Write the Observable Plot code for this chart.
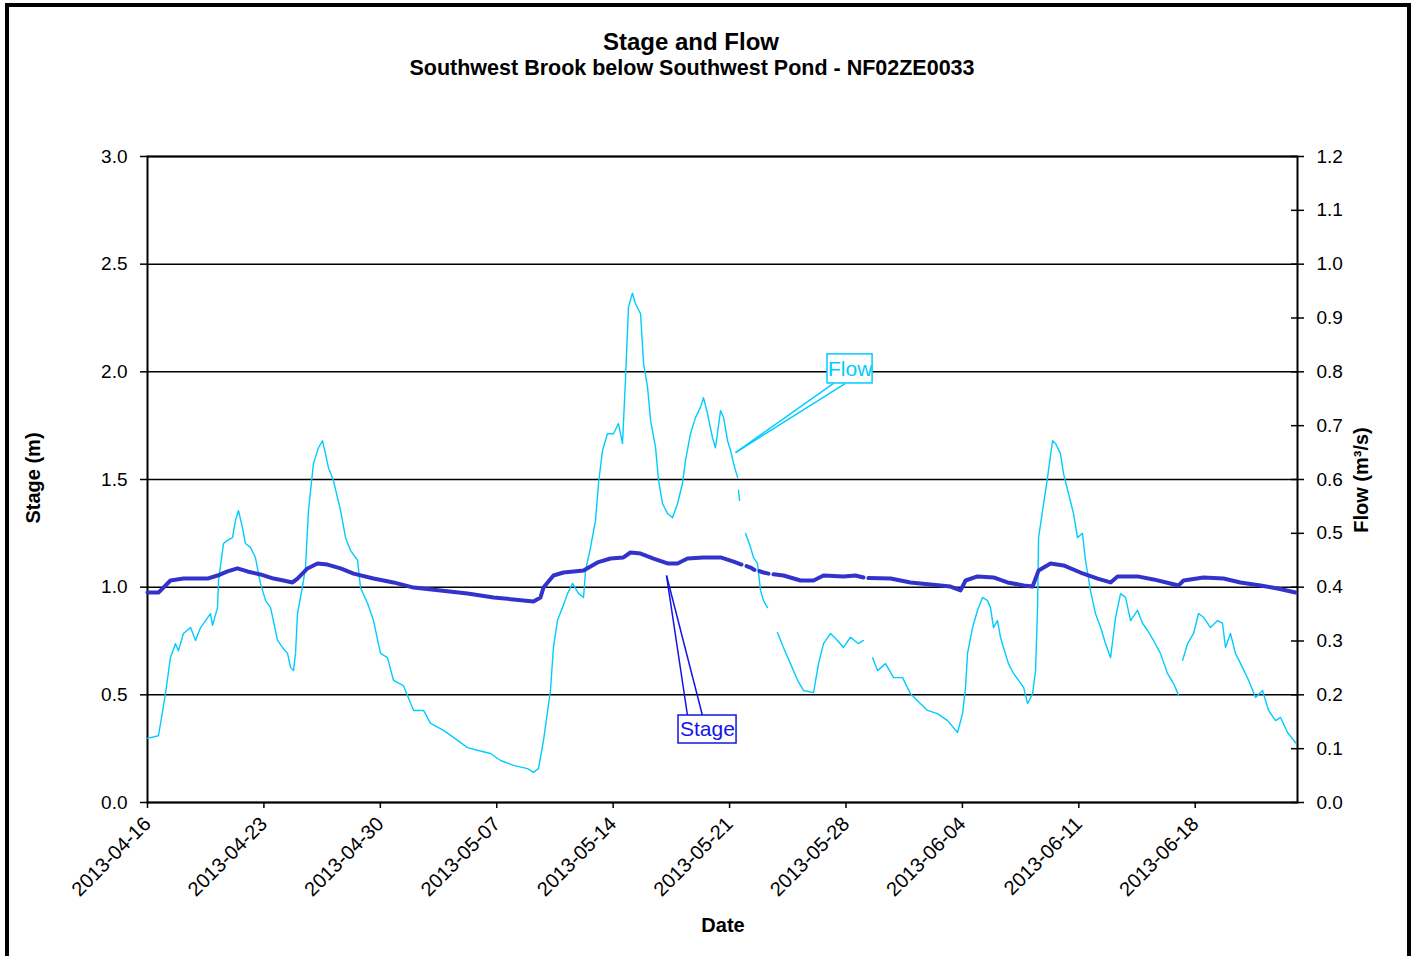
<!DOCTYPE html>
<html><head><meta charset="utf-8">
<script src="https://cdn.jsdelivr.net/npm/d3@7"></script>
<script src="https://cdn.jsdelivr.net/npm/@observablehq/plot@0.6"></script>
<style>
body{margin:0;background:#fff;font-family:"Liberation Sans",Arial,sans-serif;}
#wrap{position:relative;width:1413px;height:956px;overflow:hidden;background:#fff;}
#chart{position:absolute;left:0;top:0;}
#overlay{position:absolute;left:0;top:0;pointer-events:none;}
.frame{position:absolute;left:5px;top:3px;width:1406px;height:1000px;border:4px solid #000;box-sizing:border-box;pointer-events:none;}
</style></head><body>
<div id="wrap">
<div id="chart"></div>
<svg id="overlay" width="1413" height="956" font-family="Liberation Sans, Arial, sans-serif" font-weight="bold" fill="#000">
  <text x="691" y="50" font-size="24" text-anchor="middle">Stage and Flow</text>
  <text x="692" y="75" font-size="21.5" text-anchor="middle">Southwest Brook below Southwest Pond - NF02ZE0033</text>
  <text transform="translate(40,478) rotate(-90)" font-size="20" text-anchor="middle">Stage (m)</text>
  <text transform="translate(1368,480) rotate(-90)" font-size="20" text-anchor="middle">Flow (m³/s)</text>
  <text x="723" y="932" font-size="20" text-anchor="middle">Date</text>
</svg>
<div class="frame"></div>
</div>
<script>
// ---- data ----
const startDate = "2013-04-16";
const endDay = 69.15; // days after start shown on the x axis
const tickDates = ["2013-04-16","2013-04-23","2013-04-30","2013-05-07","2013-05-14","2013-05-21","2013-05-28","2013-06-04","2013-06-11","2013-06-18"];
const stageTicks = [0,0.5,1.0,1.5,2.0,2.5,3.0];
const flowTicks = [0,0.1,0.2,0.3,0.4,0.5,0.6,0.7,0.8,0.9,1.0,1.1,1.2];
const flowMax = 1.2, stageMax = 3.0;

// flow (m3/s), days after 2013-04-16
const flowDays = [
0,0.66,1.08,1.38,1.68,1.86,2.16,2.59,2.89,3.19,
3.79,3.91,4.21,4.27,4.57,4.81,5.11,5.29,5.47,5.71,
5.89,6.19,6.49,6.79,7.10,7.40,7.82,8.12,8.42,8.60,
8.78,8.90,9.02,9.38,9.50,9.68,9.98,10.28,10.52,10.70,
10.88,11.18,11.61,11.91,12.21,12.63,12.81,13.23,13.59,14.01,
14.43,14.79,15.39,16.00,16.60,17.02,17.80,18.40,19.24,19.84,
20.63,21.23,22.01,22.85,23.21,23.51,23.81,24.23,24.41,24.65,
24.95,25.26,25.56,25.92,26.22,26.34,26.64,26.94,27.12,27.36,
27.66,28.02,28.32,28.56,28.74,28.92,29.16,29.34,29.65,29.83,
30.07,30.25,30.55,30.73,30.97,31.27,31.57,31.87,32.17,32.35,
32.65,32.95,33.25,33.43,33.67,33.97,34.15,34.46,34.64,34.88,
35.06,35.24,35.48,35.51,35.54,35.60,35.78,
35.96,36.26,36.44,36.68,36.86,37.04,37.28,37.58,
37.88,38.24,38.66,39.09,39.45,40.05,40.35,40.65,41.07,41.49,41.85,42.27,42.75,43.05,43.30,
43.60,43.90,44.38,44.86,45.40,45.88,46.30,46.90,47.50,48.11,
48.71,49.01,49.19,49.31,49.61,49.91,50.21,50.51,50.69,50.87,
51.11,51.29,51.47,51.77,52.07,52.38,52.68,52.92,53.22,53.40,
53.52,53.58,53.82,54.12,54.42,54.60,54.90,55.08,55.38,55.68,
55.92,56.22,56.40,56.70,57.00,57.31,57.61,57.91,58.21,58.51,
58.81,59.11,59.53,59.83,60.13,60.49,60.91,61.33,61.70,62.00,62.12,
62.24,62.54,62.90,63.20,63.50,63.92,64.34,64.64,64.82,65.12,
65.42,65.84,66.21,66.63,67.05,67.41,67.83,68.13,68.55,69.03
];
const flowValues = [
.119,.124,.202,.269,.295,.282,.314,.325,.301,.325,
.351,.329,.362,.412,.481,.487,.492,.524,.542,.511,
.481,.474,.455,.407,.375,.362,.301,.288,.277,.251,
.245,.277,.351,.412,.437,.542,.630,.659,.672,.648,
.622,.598,.542,.492,.468,.450,.399,.370,.338,.277,
.269,.227,.217,.171,.171,.147,.134,.121,.102,.097,
.091,.078,.069,.063,.056,.063,.115,.208,.288,.338,
.362,.388,.407,.388,.381,.431,.474,.524,.593,.654,
.685,.685,.704,.667,.784,.920,.946,.927,.908,.815,
.771,.710,.659,.598,.555,.537,.529,.555,.593,.635,
.685,.715,.734,.752,.723,.678,.659,.728,.715,.672,
.654,.630,.604,null,.580,.561,null,
.500,.474,.455,.444,.394,.375,.362,null,
.316,.288,.258,.227,.208,.204,.258,.295,.314,.301,.288,.307,.295,.301,null,
.269,.245,.258,.232,.232,.202,.189,.171,.165,.152,
.130,.165,.214,.277,.325,.357,.381,.375,.362,.325,
.338,.307,.288,.258,.240,.227,.214,.184,.202,.245,
.362,.492,.542,.604,.672,.667,.648,.611,.574,.537,
.492,.500,.450,.394,.351,.325,.295,.269,.344,.388,
.381,.338,.357,.333,.320,.301,.277,.240,.221,.199,null,
.264,.295,.314,.351,.344,.325,.338,.333,.288,.314,
.277,.251,.227,.195,.208,.171,.152,.158,.130,.111
];

// stage (m), days after 2013-04-16
const stageDays = [
0,0.66,1.38,2.16,3.61,4.21,4.81,5.41,6.01,6.79,
7.58,8.18,8.72,9.02,9.62,10.22,10.82,11.61,12.39,13.59,
14.79,16.00,17.62,19.24,20.81,22.01,23.21,23.63,23.81,24.41,
25.02,26.22,27.06,27.84,28.62,29.04,29.65,30.43,31.27,31.87,
32.47,33.43,34.46,35.24,35.72,35.87,36.02,36.26,36.50,36.65,
36.80,37.04,37.34,37.49,37.64,38.24,39.27,40.05,40.65,41.85,
42.57,43.05,43.20,43.35,44.68,45.88,47.08,48.29,48.89,49.19,
49.91,50.87,51.71,52.68,53.22,53.58,54.30,55.08,56.10,57.13,
57.91,58.33,59.53,60.49,61.51,62.00,62.30,63.50,64.70,65.72,
66.93,67.95,69.03
];
const stageValues = [
.975,.975,1.031,1.040,1.040,1.054,1.073,1.087,1.073,1.059,
1.040,1.031,1.022,1.040,1.087,1.110,1.105,1.087,1.063,1.040,
1.022,.998,.985,.971,.952,.943,.933,.952,.998,1.054,
1.068,1.077,1.115,1.133,1.138,1.161,1.156,1.133,1.110,1.110,
1.133,1.138,1.138,1.119,1.105,null,1.098,1.091,1.080,null,
1.075,1.068,1.063,null,1.060,1.054,1.031,1.031,1.054,1.050,
1.054,1.045,null,1.042,1.040,1.022,1.012,1.003,.985,1.031,
1.050,1.045,1.022,1.008,1.003,1.077,1.110,1.101,1.068,1.040,
1.022,1.050,1.050,1.036,1.017,1.008,1.031,1.045,1.040,1.022,
1.008,.994,.975
];

// series labels (callouts), in chart units: day after start, stage (m)
const labelNames = ["Flow","Stage"];
const labelColors = ["#00CCFF","#1414E6"];
const labelDay = [42.25, 33.67];
const labelStage = [2.013, 0.339];
const boxDay1 = [40.89, 31.93], boxDay2 = [43.60, 35.42];
const boxStage1 = [1.946, 0.274], boxStage2 = [2.081, 0.404];
const leaderSeries = [0,0,1,1];
const leaderFromDay = [41.25, 41.97, 32.47, 33.37];
const leaderFromStage = [1.946, 1.946, 0.404, 0.404];
const leaderToDay = [35.36, 35.36, 31.21, 31.21];
const leaderToStage = [1.625, 1.625, 1.054, 1.054];

// ---- build ----
const t0 = Date.parse(startDate + "T00:00:00Z");
const toDate = d => new Date(t0 + d * 864e5);
const k = stageMax / flowMax;
const flowRows = flowDays.map((d, i) => ({date: toDate(d), y: flowValues[i] == null ? null : flowValues[i] * k}));
const stageRows = stageDays.map((d, i) => ({date: toDate(d), y: stageValues[i]}));
const boxes = labelNames.map((n, i) => ({n, c: labelColors[i], x1: toDate(boxDay1[i]), x2: toDate(boxDay2[i]), y1: boxStage1[i], y2: boxStage2[i], x: toDate(labelDay[i]), y: labelStage[i]}));
const leaders = leaderSeries.map((s, i) => ({c: labelColors[s], x1: toDate(leaderFromDay[i]), y1: leaderFromStage[i], x2: toDate(leaderToDay[i]), y2: leaderToStage[i]}));

const chart = Plot.plot({
  width: 1413, height: 956,
  marginLeft: 147, marginRight: 116, marginTop: 156, marginBottom: 154,
  style: {fontFamily: "Liberation Sans, Arial, sans-serif", fontSize: "19px", background: "transparent", color: "#000", overflow: "visible"},
  x: {type: "utc", domain: [toDate(0), toDate(endDay)]},
  y: {domain: [0, stageMax]},
  marks: [
    Plot.ruleY(stageTicks, {stroke: "#000", strokeWidth: 1.5}),
    Plot.frame({stroke: "#000", strokeWidth: 2}),
    Plot.line(flowRows, {x: "date", y: "y", stroke: "#00CCFF", strokeWidth: 1.4, curve: "linear"}),
    Plot.line(stageRows, {x: "date", y: "y", stroke: "#3333CC", strokeWidth: 4, strokeLinecap: "round"}),
    Plot.link(leaders, {x1: "x1", y1: "y1", x2: "x2", y2: "y2", stroke: "c", strokeWidth: 1.5}),
    Plot.rect(boxes, {x1: "x1", x2: "x2", y1: "y1", y2: "y2", fill: "#fff", stroke: "c", strokeWidth: 1.5}),
    Plot.text(boxes, {x: "x", y: "y", text: "n", fill: "c", fontSize: 21, textAnchor: "middle", lineAnchor: "middle"}),
    Plot.axisY({anchor: "left", ticks: stageTicks, tickFormat: d => d.toFixed(1), tickSize: 7, tickPadding: 13, label: null, fontSize: 19, strokeWidth: 1.5}),
    Plot.axisY({anchor: "right", ticks: flowTicks.map(v => v * k), tickFormat: d => (d / k).toFixed(1), tickSize: 13, dx: -7, tickPadding: 13, label: null, fontSize: 19, strokeWidth: 1.5}),
    Plot.axisX({anchor: "bottom", ticks: tickDates.map(s => new Date(s + "T00:00:00Z")), tickFormat: d3.utcFormat("%Y-%m-%d"), tickRotate: -45, tickSize: 6, tickPadding: 12, label: null, fontSize: 20, strokeWidth: 1.5})
  ]
});
document.getElementById("chart").appendChild(chart);
</script>
</body></html>
